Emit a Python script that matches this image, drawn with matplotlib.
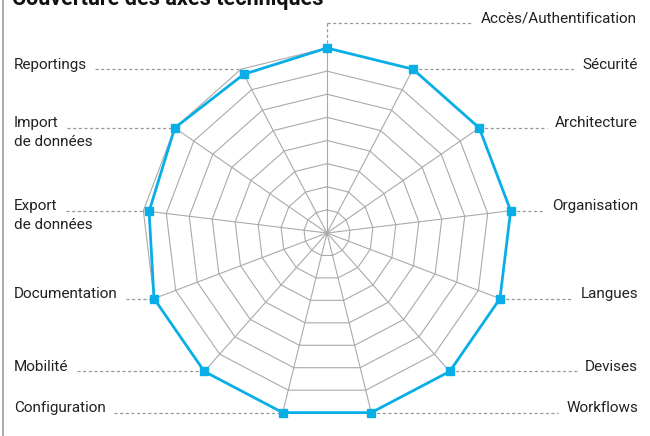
import numpy as np
import matplotlib
matplotlib.use("Agg")
import matplotlib.pyplot as plt

# axes of the radar, clockwise from the top
axes_labels = ["Accès/Authentification", "Sécurité", "Architecture", "Organisation",
               "Langues", "Devises", "Workflows", "Configuration", "Mobilité",
               "Documentation", "Export\nde données", "Import\nde données", "Reportings"]
scores = [8, 8, 8, 8, 8, 8, 8, 8, 8, 8, 7.75, 8, 7.75]
vmax = 8
title = "Couverture des axes techniques"

blue = "#0aaee6"
grid_c = "#aaaaaa"
lead_c = "#999999"
txt_c = "#222222"
font = "Roboto"

W, H = 650, 436
fig = plt.figure(figsize=(W / 100, H / 100), dpi=100)

# radar centre / radius in pixels (from top-left)
cx, cy, R = 327, 233, 185
ax = fig.add_axes([(cx - R) / W, (H - cy - R) / H, 2 * R / W, 2 * R / H], projection="polar")
ax.set_theta_offset(np.pi / 2)
ax.set_theta_direction(-1)
ax.set_ylim(0, vmax)
ax.set_axis_off()

n = len(axes_labels)
theta = np.arange(n) * 2 * np.pi / n
theta_c = np.append(theta, theta[0])

# spider grid
for lev in range(1, vmax + 1):
    ax.plot(theta_c, [lev] * (n + 1), color=grid_c, lw=0.8, zorder=1, clip_on=False)
for t in theta:
    ax.plot([t, t], [0, vmax], color=grid_c, lw=0.8, zorder=1, clip_on=False)

vals = np.append(scores, scores[0])
ax.plot(theta_c, vals, color=blue, lw=2.0, zorder=5, clip_on=False)
ax.plot(theta, scores, ls="none", marker="s", ms=6, color=blue, zorder=6, clip_on=False)

# overlay in pixel coords for labels and leader lines
ov = fig.add_axes([0, 0, 1, 1], zorder=-1)
ov.set_xlim(0, W)
ov.set_ylim(H, 0)
ov.set_axis_off()
ov.patch.set_alpha(0)

renderer = fig.canvas.get_renderer()
inv = ov.transData.inverted()

def anchor(t):
    p = ax.transData.transform((t, vmax))
    return inv.transform(p)

dash = dict(color=lead_c, lw=0.9, ls=(0, (2.5, 2)), zorder=0)
fs = 11

for i, (lab, t) in enumerate(zip(axes_labels, theta)):
    axp, ayp = anchor(t)
    lines = lab.split("\n")
    if i == 0:
        ly = 23.5
        tx = ov.text(637, ly - 1, lab, ha="right", va="baseline", fontsize=fs,
                     family=font, color=txt_c)
        bb = inv.transform(tx.get_window_extent(renderer))
        ov.plot([axp, bb[:, 0].min() - 8], [ly, ly], **dash)
        ov.plot([axp, axp], [ly, ayp], **dash)
        continue
    ly = ayp
    if axp > cx:
        tx = ov.text(638, ly - 0.5, lines[0], ha="right", va="baseline", fontsize=fs,
                     family=font, color=txt_c)
        bb = inv.transform(tx.get_window_extent(renderer))
        ov.plot([axp, bb[:, 0].min() - 8], [ly, ly], **dash)
    else:
        tx = ov.text(14, ly - 0.5, lines[0], ha="left", va="baseline", fontsize=fs,
                     family=font, color=txt_c)
        for k, extra in enumerate(lines[1:]):
            ov.text(14, ly - 0.5 + 18.5 * (k + 1), extra, ha="left", va="baseline",
                    fontsize=fs, family=font, color=txt_c)
        bb = inv.transform(tx.get_window_extent(renderer))
        ov.plot([bb[:, 0].max() + 8, axp], [ly, ly], **dash)

# title, cut at the top edge as in the source
ov.text(12, 5, title, ha="left", va="baseline", fontsize=15.5, fontweight="bold",
        family=font, color="#111111")
# left frame line
ov.plot([3, 3], [0, H], color="#999999", lw=1.2)

fig.savefig("out.png", dpi=100)
